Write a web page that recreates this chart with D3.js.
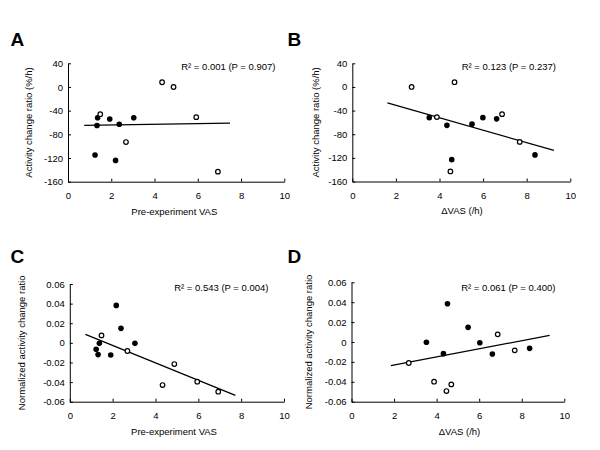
<!DOCTYPE html>
<html>
<head>
<meta charset="utf-8">
<script src="https://cdn.jsdelivr.net/npm/d3@7"></script>
<style>
  html, body { margin: 0; padding: 0; background: #fff; }
  svg { display: block; }
  text { font-family: "Liberation Sans", Arial, sans-serif; fill: #000; }
</style>
</head>
<body>
<svg id="chart" width="600" height="450"></svg>
<script>
// ---- Data ----
const xTicks = [0, 2, 4, 6, 8, 10];
const xTickLabels = ["0", "2", "4", "6", "8", "10"];
const activityTicks = [40, 0, -40, -80, -120, -160];
const activityTickLabels = ["40", "0", "-40", "-80", "-120", "-160"];
const normTicks = [0.06, 0.04, 0.02, 0, -0.02, -0.04, -0.06];
const normTickLabels = ["0.06", "0.04", "0.02", "0", "-0.02", "-0.04", "-0.06"];

// Panel A: Pre-experiment VAS vs activity change ratio
const aFilled = [[1.25, -115], [1.34, -65], [1.37, -52], [1.93, -54], [2.20, -124], [2.37, -63], [3.04, -52]];
const aOpen = [[1.49, -46], [2.68, -93], [4.35, 8], [4.88, 0], [5.93, -51], [6.93, -143]];
const aLine = [[0.75, -64.8], [7.49, -60.9]];

// Panel B: ΔVAS vs activity change ratio
const bFilled = [[3.53, -52], [4.34, -65], [4.56, -123], [5.49, -63], [5.99, -52], [6.62, -54], [8.38, -115]];
const bOpen = [[2.72, 0], [3.88, -51], [4.50, -143], [4.69, 8], [6.87, -46], [7.68, -93]];
const bLine = [[1.61, -27], [9.25, -107.5]];

// Panel C: Pre-experiment VAS vs normalized activity change ratio
const cFilled = [[1.23, -0.0066], [1.32, -0.012], [1.38, -0.0005], [1.91, -0.0124], [2.17, 0.0382], [2.39, 0.0148], [3.04, -0.0005]];
const cOpen = [[1.48, 0.0076], [2.69, -0.0083], [4.33, -0.043], [4.88, -0.0216], [5.95, -0.0396], [6.93, -0.0498]];
const cLine = [[0.73, 0.0087], [7.73, -0.0535]];

// Panel D: ΔVAS vs normalized activity change ratio
const dFilled = [[3.52, -0.0003], [4.32, -0.0117], [4.51, 0.0385], [5.48, 0.0147], [6.03, -0.0007], [6.62, -0.012], [8.37, -0.0064]];
const dOpen = [[2.69, -0.0211], [3.88, -0.0399], [4.46, -0.0493], [4.69, -0.0426], [6.87, 0.0077], [7.67, -0.0084]];
const dLine = [[1.85, -0.0238], [9.31, 0.0067]];

const panelLetters = ["A", "B", "C", "D"];
const statLabels = ["R² = 0.001 (P = 0.907)", "R² = 0.123 (P = 0.237)", "R² = 0.543 (P = 0.004)", "R² = 0.061 (P = 0.400)"];
const xTitles = ["Pre-experiment VAS", "ΔVAS (/h)", "Pre-experiment VAS", "ΔVAS (/h)"];
const yTitles = ["Activity change ratio (%/h)", "Activity change ratio (%/h)", "Normalized activity change ratio", "Normalized activity change ratio"];

// ---- Layout ----
const panels = [
  { letter: panelLetters[0], stat: statLabels[0], xTitle: xTitles[0], yTitle: yTitles[0],
    filled: aFilled, open: aOpen, line: aLine, yTicks: activityTicks, yLabels: activityTickLabels,
    x0: 68, x1: 284.3, yTop: 63.3, yBot: 181.7, letterPos: [10.5, 46], yTitleX: 31.5, statX: 275.5, statY: 69.5,
    xTitleX: 174.3, xTitleY: 215 },
  { letter: panelLetters[1], stat: statLabels[1], xTitle: xTitles[1], yTitle: yTitles[1],
    filled: bFilled, open: bOpen, line: bLine, yTicks: activityTicks, yLabels: activityTickLabels,
    x0: 352.3, x1: 570.3, yTop: 63.3, yBot: 181.5, letterPos: [287.5, 46], yTitleX: 318.5, statX: 556, statY: 69.5,
    xTitleX: 462, xTitleY: 214 },
  { letter: panelLetters[2], stat: statLabels[2], xTitle: xTitles[2], yTitle: yTitles[2],
    filled: cFilled, open: cOpen, line: cLine, yTicks: normTicks, yLabels: normTickLabels,
    x0: 69.8, x1: 284, yTop: 284, yBot: 401.7, letterPos: [10.5, 263], yTitleX: 25, statX: 268.5, statY: 290.5,
    xTitleX: 174, xTitleY: 435 },
  { letter: panelLetters[3], stat: statLabels[3], xTitle: xTitles[3], yTitle: yTitles[3],
    filled: dFilled, open: dOpen, line: dLine, yTicks: normTicks, yLabels: normTickLabels,
    x0: 351.5, x1: 564.3, yTop: 282.3, yBot: 401.7, letterPos: [287.5, 263], yTitleX: 311.5, statX: 555.5, statY: 290.5,
    xTitleX: 459.5, xTitleY: 434.5 }
];

const svg = d3.select("#chart");
const FS = 9.5;

panels.forEach(p => {
  const g = svg.append("g");
  const x = d3.scaleLinear().domain([0, 10]).range([p.x0, p.x1]);
  const yMax = d3.max(p.yTicks), yMin = d3.min(p.yTicks);
  const y = d3.scaleLinear().domain([yMin, yMax]).range([p.yBot, p.yTop]);

  // Axes
  const xAxis = d3.axisBottom(x).tickValues(xTicks)
    .tickFormat((d, i) => xTickLabels[i]).tickSizeInner(-3).tickSizeOuter(0).tickPadding(10.5);
  const yAxis = d3.axisLeft(y).tickValues(p.yTicks)
    .tickFormat((d, i) => p.yLabels[i]).tickSizeInner(-3).tickSizeOuter(0).tickPadding(5);

  const gx = g.append("g").attr("transform", `translate(0,${p.yBot})`).call(xAxis);
  const gy = g.append("g").attr("transform", `translate(${p.x0},0)`).call(yAxis);
  [gx, gy].forEach(a => {
    a.selectAll("path.domain").attr("stroke", "#000").attr("stroke-width", 1);
    a.selectAll(".tick line").attr("stroke", "#000").attr("stroke-width", 1);
    a.selectAll("text").attr("font-size", FS).attr("font-family", '"Liberation Sans", Arial, sans-serif').attr("fill", "#000");
  });

  // Regression line
  g.append("line")
    .attr("x1", x(p.line[0][0])).attr("y1", y(p.line[0][1]))
    .attr("x2", x(p.line[1][0])).attr("y2", y(p.line[1][1]))
    .attr("stroke", "#000").attr("stroke-width", 1.3);

  // Points
  g.selectAll("circle.filled").data(p.filled).enter().append("circle")
    .attr("class", "filled")
    .attr("cx", d => x(d[0])).attr("cy", d => y(d[1])).attr("r", 2.8)
    .attr("fill", "#000");
  g.selectAll("circle.open").data(p.open).enter().append("circle")
    .attr("class", "open")
    .attr("cx", d => x(d[0])).attr("cy", d => y(d[1])).attr("r", 2.3)
    .attr("fill", "#fff").attr("stroke", "#000").attr("stroke-width", 1.2);

  // Stat label
  g.append("text").attr("x", p.statX).attr("y", p.statY)
    .attr("text-anchor", "end").attr("font-size", FS).text(p.stat);

  // Axis titles
  g.append("text").attr("x", p.xTitleX).attr("y", p.xTitleY)
    .attr("text-anchor", "middle").attr("font-size", FS).text(p.xTitle);
  g.append("text")
    .attr("transform", `translate(${p.yTitleX},${(p.yTop + p.yBot) / 2}) rotate(-90)`)
    .attr("text-anchor", "middle").attr("font-size", FS).text(p.yTitle);

  // Panel letter
  g.append("text").attr("x", p.letterPos[0]).attr("y", p.letterPos[1])
    .attr("font-size", 19).attr("font-weight", "bold").text(p.letter);
});
</script>
</body>
</html>
